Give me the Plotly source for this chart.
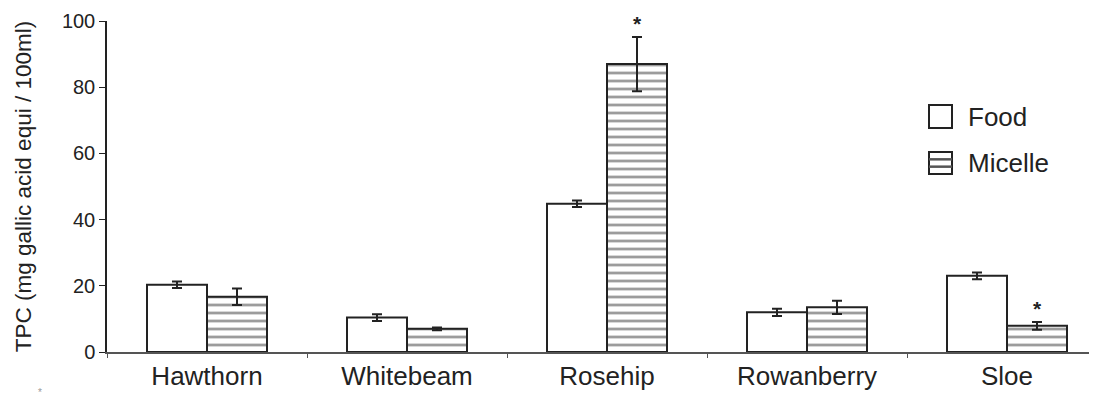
import plotly.graph_objects as go

categories = ["Hawthorn", "Whitebeam", "Rosehip", "Rowanberry", "Sloe"]
food_values = [20.3, 10.4, 44.8, 12.0, 23.0]
food_errors = [1.0, 1.0, 1.0, 1.1, 1.0]
micelle_values = [16.7, 7.0, 87.0, 13.5, 7.9]
micelle_errors = [2.5, 0.4, 8.2, 2.0, 1.2]
significant = [False, False, True, False, True]
y_ticks = [0, 20, 40, 60, 80, 100]
series_names = ["Food", "Micelle"]

FONT = "Arial, Liberation Sans, sans-serif"
DARK = "#222222"

# page body has an 8px margin: compensate so the plot area lands where the reference has it
BODY = 8
W, H = 1097, 399
L, T, B, R = 107, 21, 47, 0
PW = W - L - R
PH = H - T - B

fig = go.Figure()
fig.add_trace(go.Bar(
    name=series_names[0], x=categories, y=food_values,
    marker=dict(color="white", line=dict(color=DARK, width=2)),
    error_y=dict(type="data", array=food_errors, color=DARK, thickness=2, width=5),
))
fig.add_trace(go.Bar(
    name=series_names[1], x=categories, y=micelle_values,
    marker=dict(color="white", line=dict(color=DARK, width=2),
                pattern=dict(shape="-", size=8, solidity=0.35, fgcolor="#3a3a3a", bgcolor="white")),
    error_y=dict(type="data", array=micelle_errors, color=DARK, thickness=2, width=5),
))

bar_offset = 0.15
for i, (sig, v, e) in enumerate(zip(significant, micelle_values, micelle_errors)):
    if sig:
        fig.add_annotation(x=i + bar_offset, y=v + e, text="<b>*</b>", showarrow=False,
                           yanchor="bottom", yshift=0, font=dict(family=FONT, size=21, color=DARK))


def px_x(px):
    return (px - L) / PW


def px_y(py):
    return (H - B - py) / PH


# custom legend with large swatches
box_x0, box_x1 = 929, 952
legend_rows = [(105, 128), (152, 174)]
for k, (name, (y0, y1)) in enumerate(zip(series_names, legend_rows)):
    fig.add_shape(type="rect", xref="paper", yref="paper",
                  x0=px_x(box_x0), x1=px_x(box_x1), y0=px_y(y1), y1=px_y(y0),
                  line=dict(color=DARK, width=2), fillcolor="white")
    if k == 1:
        for frac in (1 / 3, 2 / 3):
            yy = y0 + (y1 - y0) * frac
            fig.add_shape(type="line", xref="paper", yref="paper",
                          x0=px_x(box_x0), x1=px_x(box_x1), y0=px_y(yy), y1=px_y(yy),
                          line=dict(color="#555555", width=2.5))
    fig.add_annotation(xref="paper", yref="paper", x=px_x(966), y=px_y((y0 + y1) / 2),
                       text=name, showarrow=False, xanchor="left", yanchor="middle",
                       font=dict(family=FONT, size=26, color=DARK))

fig.add_annotation(xref="paper", yref="paper", x=px_x(40), y=px_y(392), text="*",
                   showarrow=False, xanchor="center", yanchor="middle",
                   font=dict(family=FONT, size=10, color="#999999"))

fig.update_layout(
    width=W - BODY, height=H - BODY,
    margin=dict(l=L - BODY, r=R, t=T - BODY, b=B, autoexpand=False),
    plot_bgcolor="white", paper_bgcolor="white",
    barmode="group", bargap=0.4, bargroupgap=0,
    font=dict(family=FONT, color=DARK),
    showlegend=False,
    xaxis=dict(range=[-0.5, 4.45], showline=True, linecolor="#555555", linewidth=1.5,
               ticks="outside", tickson="boundaries", ticklen=4, tickcolor="#555555",
               tickfont=dict(size=26, family=FONT, color=DARK), showgrid=False),
    yaxis=dict(range=[0, 100], tickvals=y_ticks, showline=True, linecolor=DARK, linewidth=1.5,
               ticks="outside", ticklen=6, tickcolor=DARK, showgrid=False, zeroline=False,
               tickfont=dict(size=20, family=FONT, color=DARK),
               title=dict(text="TPC (mg gallic acid equi / 100ml)", standoff=24,
                          font=dict(size=22.5, family=FONT, color=DARK))),
)

fig.write_html("out.html")
